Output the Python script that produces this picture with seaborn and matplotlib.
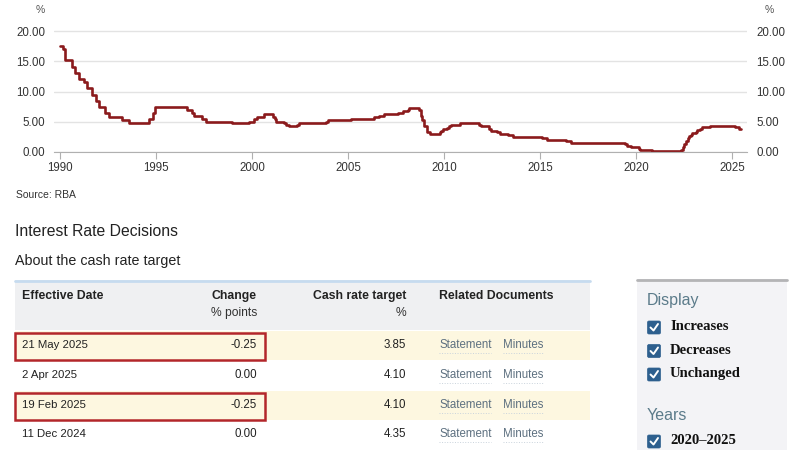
import pandas as pd
import numpy as np
import matplotlib.pyplot as plt
import seaborn as sns
from matplotlib.patches import Rectangle, FancyBboxPatch

# cash rate target, date of each change and the new level (%)
change_dates = ['1990-01-01', '1990-02-15', '1990-04-04', '1990-08-02', '1990-10-15', '1990-12-18',
                '1991-04-04', '1991-05-16', '1991-09-03', '1991-11-06', '1992-01-08', '1992-05-06',
                '1992-07-08', '1993-03-23', '1993-07-30', '1994-08-17', '1994-10-24', '1994-12-14',
                '1996-07-31', '1996-11-06', '1996-12-11', '1997-05-23', '1997-07-30', '1998-12-02',
                '1999-11-03', '2000-02-02', '2000-04-05', '2000-08-02', '2001-02-07', '2001-03-07',
                '2001-04-04', '2001-09-05', '2001-10-03', '2001-12-05', '2002-05-08', '2002-06-05',
                '2003-11-05', '2003-12-03', '2005-03-02', '2006-05-03', '2006-08-02', '2006-11-08',
                '2007-08-08', '2007-11-07', '2008-02-06', '2008-03-05', '2008-09-03', '2008-10-08',
                '2008-11-05', '2008-12-03', '2009-02-04', '2009-04-08', '2009-10-07', '2009-11-04',
                '2009-12-02', '2010-03-03', '2010-04-07', '2010-05-05', '2010-11-03', '2011-11-02',
                '2011-12-07', '2012-05-02', '2012-06-06', '2012-10-03', '2012-12-05', '2013-05-08',
                '2013-08-07', '2015-02-04', '2015-05-06', '2016-05-04', '2016-08-03', '2019-06-05',
                '2019-07-03', '2019-10-02', '2020-03-04', '2020-03-20', '2020-11-04', '2022-05-04',
                '2022-06-08', '2022-07-06', '2022-08-03', '2022-09-07', '2022-10-05', '2022-11-02',
                '2022-12-07', '2023-02-08', '2023-03-08', '2023-05-03', '2023-06-07', '2023-11-08',
                '2025-02-19', '2025-05-21', '2025-06-15']
cash_rate = [17.50, 17.00, 15.25, 14.00, 13.00, 12.00,
             11.50, 10.50, 9.50, 8.50, 7.50, 6.50,
             5.75, 5.25, 4.75, 5.50, 6.50, 7.50,
             7.00, 6.50, 6.00, 5.50, 5.00, 4.75,
             5.00, 5.50, 5.75, 6.25, 5.75, 5.50,
             5.00, 4.75, 4.50, 4.25, 4.50, 4.75,
             5.00, 5.25, 5.50, 5.75, 6.00, 6.25,
             6.50, 6.75, 7.00, 7.25, 7.00, 6.00,
             5.25, 4.25, 3.25, 3.00, 3.25, 3.50,
             3.75, 4.00, 4.25, 4.50, 4.75, 4.50,
             4.25, 3.75, 3.50, 3.25, 3.00, 2.75,
             2.50, 2.25, 2.00, 1.75, 1.50, 1.25,
             1.00, 0.75, 0.50, 0.25, 0.10, 0.35,
             0.85, 1.35, 1.85, 2.35, 2.60, 2.85,
             3.10, 3.35, 3.60, 3.85, 4.10, 4.35,
             4.10, 3.85, 3.85]
year_ticks = [1990, 1995, 2000, 2005, 2010, 2015, 2020, 2025]
y_ticks = [0, 5, 10, 15, 20]

# table of the latest decisions
eff_dates = ['21 May 2025', '2 Apr 2025', '19 Feb 2025', '11 Dec 2024']
changes = ['-0.25', '0.00', '-0.25', '0.00']
targets = ['3.85', '4.10', '4.10', '4.35']
display_opts = ['Increases', 'Decreases', 'Unchanged']
year_opts = ['2020\u20132025']

df = pd.DataFrame({'date': pd.to_datetime(change_dates), 'rate': cash_rate})

sans = ['Liberation Sans', 'DejaVu Sans']
serif = ['Liberation Serif', 'DejaVu Serif']

sns.set_style('white')
plt.rcParams['font.family'] = sans

fig = plt.figure(figsize=(8, 4.5), dpi=100)

# full-figure layer in pixel coordinates for the page parts
bg = fig.add_axes([0, 0, 1, 1])
bg.set_xlim(0, 800)
bg.set_ylim(450, 0)
bg.axis('off')

# %%
# ### Cash rate chart
ax = fig.add_axes([54 / 800, 1 - 152 / 450, 693 / 800, 122 / 450])
ax.set_zorder(2)
ax.patch.set_alpha(0)
sns.lineplot(data=df, x='date', y='rate', estimator=None, drawstyle='steps-post',
             color='#8b1a1c', linewidth=1.9, ax=ax)
ax.set_xlim(pd.Timestamp('1989-09-01'), pd.Timestamp('2025-10-12'))
ax.set_ylim(0, 20.17)
ax.set_xticks([pd.Timestamp(f'{y}-01-01') for y in year_ticks])
ax.set_xticklabels([str(y) for y in year_ticks])
ax.set_yticks(y_ticks)
ax.set_yticklabels([f'{v:.2f}' for v in y_ticks])
ax.yaxis.grid(True, color='#e3e3e3', linewidth=1)
ax.xaxis.grid(False)
ax.set_xlabel('')
ax.set_ylabel('')
for s in ['top', 'left', 'right']:
    ax.spines[s].set_visible(False)
ax.spines['bottom'].set_color('#b0b0b0')
ax.tick_params(axis='x', bottom=True, length=5, color='#b0b0b0', labelsize=8.3,
               labelcolor='#333333', pad=2)
ax.tick_params(axis='y', left=False, right=False, labelleft=True, labelright=True,
               labelsize=8.3, labelcolor='#333333', pad=3)
bg.text(36, 10, '%', fontsize=7.5, color='#555555', va='center')
bg.text(765, 10, '%', fontsize=7.5, color='#555555', va='center')
bg.text(16, 195, 'Source: RBA', fontsize=7.5, color='#333333', va='center')

# %%
# ### Decisions table
bg.text(15, 232, 'Interest Rate Decisions', fontsize=11.3, color='#222222', va='center')
bg.text(15, 261, 'About the cash rate target', fontsize=10.3, color='#222222', va='center')

bg.add_patch(Rectangle((15, 280), 575, 50, color='#eff0f2', lw=0))
bg.plot([15, 590], [280.5, 280.5], color='#c6dbef', lw=2)
bg.text(22, 296, 'Effective Date', fontsize=8.8, fontweight='bold', color='#222222', va='center')
bg.text(257, 296, 'Change', fontsize=8.8, fontweight='bold', color='#222222', va='center', ha='right')
bg.text(257, 313, '% points', fontsize=8.7, color='#333333', va='center', ha='right')
bg.text(406, 296, 'Cash rate target', fontsize=8.8, fontweight='bold', color='#222222', va='center', ha='right')
bg.text(406, 313, '%', fontsize=8.7, color='#333333', va='center', ha='right')
bg.text(439, 296, 'Related Documents', fontsize=8.8, fontweight='bold', color='#222222', va='center')

row_y = [345, 375, 405, 434]
for i, (d, c, t) in enumerate(zip(eff_dates, changes, targets)):
    y = row_y[i]
    if i % 2 == 0:
        bg.add_patch(Rectangle((15, y - 14), 575, 29, color='#fdf7e0', lw=0))
    bg.text(22, y, d, fontsize=8.2, color='#222222', va='center')
    bg.text(257, y, c, fontsize=8.3, color='#222222', va='center', ha='right')
    bg.text(406, y, t, fontsize=8.3, color='#222222', va='center', ha='right')
    bg.text(439, y, 'Statement', fontsize=8.3, color='#5d7080', va='center')
    bg.text(503, y, 'Minutes', fontsize=8.3, color='#5d7080', va='center')
    bg.plot([439, 491], [y + 7.5, y + 7.5], color='#c9d3dc', lw=0.7, ls=':')
    bg.plot([503, 543], [y + 7.5, y + 7.5], color='#c9d3dc', lw=0.7, ls=':')
    if c.startswith('-'):
        bg.add_patch(Rectangle((15, y - 12), 250, 27, fill=False, ec='#b3262a', lw=1.8))

# %%
# ### Filter sidebar
bg.add_patch(Rectangle((637, 279), 150, 171, color='#f3f3f6', lw=0))
bg.plot([637, 787], [279.5, 279.5], color='#b4b4b6', lw=2)


def checkbox(y, label):
    bg.add_patch(FancyBboxPatch((647.5, y - 6), 13, 13, boxstyle='round,pad=0,rounding_size=1.5',
                                fc='#2d5f8e', ec='#2d5f8e', lw=0.5))
    bg.plot([650.5, 653.5, 658], [y + 0.5, y + 3.5, y - 3], color='white', lw=1.4,
            solid_capstyle='round')
    bg.text(670, y, label, fontsize=10.5, fontweight='bold', family=serif, color='#111111', va='center')


bg.text(647, 300, 'Display', fontsize=11.5, color='#5b7b8a', va='center')
for j, opt in enumerate(display_opts):
    checkbox(327 + j * 23.5, opt)
bg.text(647, 415, 'Years', fontsize=11.5, color='#5b7b8a', va='center')
checkbox(441, year_opts[0])

fig.savefig('out.png', dpi=100)
